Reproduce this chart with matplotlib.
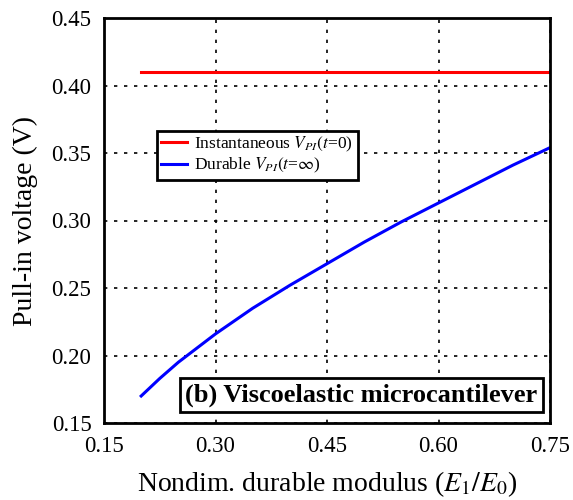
import numpy as np
import matplotlib
matplotlib.use("Agg")
import matplotlib.pyplot as plt

# data
e_ratio = [0.20, 0.225, 0.25, 0.30, 0.35, 0.40, 0.45, 0.50, 0.55, 0.60, 0.65, 0.70, 0.75]
v_instant = [0.41] * len(e_ratio)
v_durable = [0.170, 0.183, 0.195, 0.216, 0.235, 0.252, 0.268, 0.284, 0.299, 0.313, 0.327, 0.341, 0.354]

x_ticks = [0.15, 0.30, 0.45, 0.60, 0.75]
y_ticks = [0.15, 0.20, 0.25, 0.30, 0.35, 0.40, 0.45]

plt.rcParams["font.family"] = ["Liberation Serif", "DejaVu Serif"]
plt.rcParams["mathtext.fontset"] = "stix"

fig = plt.figure(figsize=(5.73, 5.0), dpi=100)
ax = fig.add_axes([0.1815, 0.154, 0.7785, 0.810])

ax.plot(e_ratio, v_instant, color="red", linewidth=2.2,
        label=r"Instantaneous $V_{PI}(t$=0)")
ax.plot(e_ratio, v_durable, color="blue", linewidth=2.2,
        label=r"Durable $V_{PI}(t$=$\infty$)")

ax.set_xlim(0.15, 0.75)
ax.set_ylim(0.15, 0.45)
ax.set_xticks(x_ticks)
ax.set_yticks(y_ticks)
ax.set_xticklabels([f"{t:.2f}" for t in x_ticks])
ax.set_yticklabels([f"{t:.2f}" for t in y_ticks])
ax.tick_params(length=0, labelsize=16.5, pad=9)
ax.grid(True, color="black", linestyle=(0, (2, 4)), linewidth=1.2)
for s in ax.spines.values():
    s.set_linewidth(2)

ax.set_xlabel(r"Nondim. durable modulus ($E_1/E_0$)", fontsize=20, labelpad=9)
ax.set_ylabel("Pull-in voltage (V)", fontsize=20, labelpad=10)

leg = ax.legend(loc="upper left", bbox_to_anchor=(0.119, 0.722), fontsize=12.5,
                frameon=True, fancybox=False, handlelength=1.5,
                borderpad=0.25, labelspacing=0.12, handletextpad=0.4,
                borderaxespad=0)
leg.get_frame().set_edgecolor("black")
leg.get_frame().set_linewidth(2)
leg.get_frame().set_alpha(1)

ax.text(0.4965, 0.1705, "(b) Viscoelastic microcantilever", fontsize=19,
        fontweight="bold", ha="center", va="center",
        bbox=dict(boxstyle="square,pad=0.2", facecolor="white",
                  edgecolor="black", linewidth=2))

fig.savefig("out.png", dpi=100)
